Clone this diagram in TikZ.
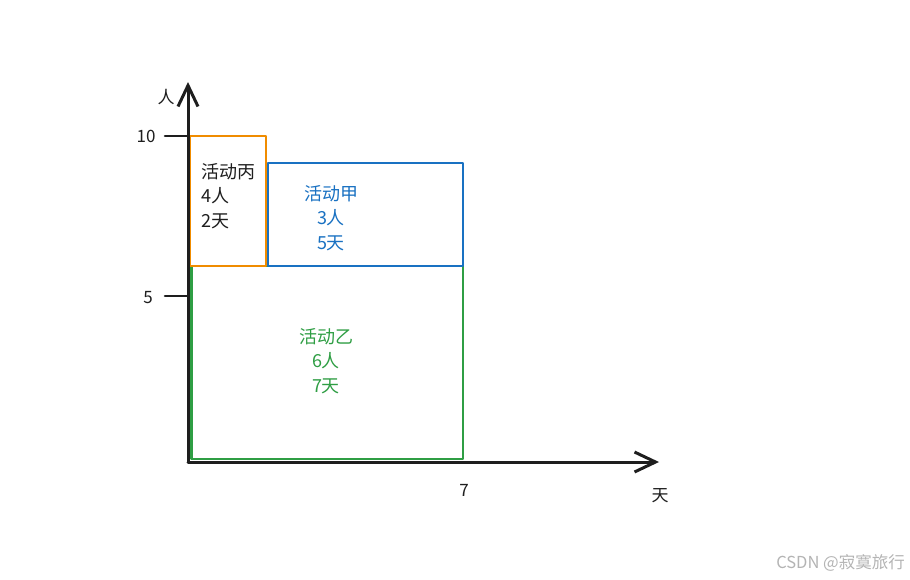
\documentclass[tikz,border=0pt]{standalone}
\usepackage{fontspec}
\setmainfont{Noto Sans CJK SC}
\usetikzlibrary{arrows.meta}
\definecolor{inkblack}{HTML}{1E1E1E}
\definecolor{bingorange}{HTML}{F08C00}
\definecolor{jiablue}{HTML}{1971C2}
\definecolor{yigreen}{HTML}{2F9E44}
\definecolor{markgray}{HTML}{B4B4B4}
\tikzset{
  axis/.style={line width=3pt,color=inkblack},
  actbox/.style={line width=2.2pt},
  actlabel/.style={font=\fontsize{18}{24.5}\selectfont,align=center,inner sep=0pt},
  ticklabel/.style={font=\fontsize{17}{20}\selectfont,color=inkblack,inner sep=0pt}
}
\begin{document}
\begin{tikzpicture}[line cap=round,line join=round,>={Straight Barb[length=21pt,width=20pt,line width=3pt]},x=1pt,y=-1pt]
\useasboundingbox (0,0) rectangle (910,579);
\fill[white] (0,0) rectangle (910,579);
% activity boxes
\draw [actbox,color=yigreen] (191.5,266) rectangle (463,459);
\draw [actbox,color=jiablue] (268,163) rectangle (463,266);
\draw [actbox,color=bingorange] (190,136) rectangle (266,266);
% axes
\coordinate (o) at (188,462);
\coordinate (ytop) at (188,82);
\coordinate (xend) at (659,462);
\draw [axis,->] (o) -- (ytop);
\draw [axis,->] (o) -- (xend);
\coordinate (t10) at (188,136);
\coordinate (t5) at (188,296);
\draw [axis,line width=2.6pt] (t10) -- ++(-23,0);
\draw [axis,line width=2.6pt] (t5) -- ++(-23,0);
\node [ticklabel] (l10) at (146,136) {10};
\node [ticklabel] (l5) at (148,298) {5};
\node [ticklabel] (ren) at (166,97) {人};
\node [ticklabel] (l7) at (464,490) {7};
\node [ticklabel] (tian) at (660,496) {天};
% activity texts
\node [actlabel,align=left,anchor=west,color=inkblack] (bing) at (201,196) {活动丙\\4人\\2天};
\node [actlabel,color=jiablue] (jia) at (331,218) {活动甲\\3人\\5天};
\node [actlabel,color=yigreen] (yi) at (326,361) {活动乙\\6人\\7天};
\node [font=\fontsize{16.5}{18}\selectfont,color=markgray,anchor=east,inner sep=0pt] (mark) at (905,563) {CSDN @寂寞旅行};
\end{tikzpicture}
\end{document}
